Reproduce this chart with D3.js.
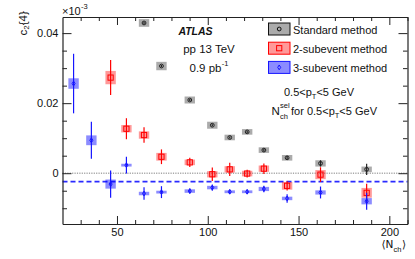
<!DOCTYPE html>
<html><head><meta charset="utf-8">
<script src="https://cdn.jsdelivr.net/npm/d3@7"></script>
<style>
body{margin:0;background:#fff;}
svg{display:block;font-family:"Liberation Sans",Arial,Helvetica,sans-serif;}
</style></head>
<body>
<script>
// ---------------- data ----------------
const nchStd  = [64.9, 74.5, 90.1, 102.5, 112.1, 121.7, 130.9, 143.7, 162.1, 187.5];
const c24Std  = [0.0429, 0.0306, 0.0209, 0.0137, 0.0102, 0.0118, 0.0066, 0.0044, 0.0028, 0.0011];
const statStd = [0.0003, 0.0003, 0.0003, 0.0003, 0.0003, 0.0003, 0.0004, 0.0005, 0.0009, 0.0016];
const sysStd  = [0.0011, 0.0012, 0.0010, 0.0010, 0.0008, 0.0008, 0.0008, 0.0008, 0.0009, 0.0008];

const nch2sub  = [46.5, 55.2, 64.9, 74.5, 90.1, 102.5, 112.1, 121.7, 130.9, 143.7, 162.1, 187.5];
const c24_2sub = [0.0273, 0.0127, 0.0109, 0.0047, 0.0031, -0.0003, 0.0011, -0.0001, 0.0013, -0.0036, -0.0004, -0.0056];
const stat2sub = [0.0050, 0.0030, 0.0022, 0.0021, 0.0013, 0.0019, 0.0019, 0.0011, 0.0015, 0.0013, 0.0021, 0.0026];
const sys2sub  = [0.0019, 0.00105, 0.00105, 0.0011, 0.0008, 0.0009, 0.0009, 0.0008, 0.0009, 0.0011, 0.0013, 0.0014];

const nch3sub  = [26.1, 35.9, 46.5, 55.2, 64.9, 74.5, 90.1, 102.5, 112.1, 121.7, 130.9, 143.7, 162.1, 187.5];
const c24_3sub = [0.0256, 0.0094, -0.0031, 0.0023, -0.0058, -0.0054, -0.0051, -0.0041, -0.0053, -0.0053, -0.0045, -0.0072, -0.0055, -0.0080];
const stat3sub = [0.0085, 0.0053, 0.0039, 0.0024, 0.0018, 0.0017, 0.0007, 0.0009, 0.0006, 0.0006, 0.0009, 0.0012, 0.0017, 0.0024];
const sys3sub  = [0.0015, 0.0014, 0.0013, 0.0004, 0.0005, 0.0004, 0.0005, 0.0005, 0.0004, 0.0004, 0.0006, 0.0005, 0.0006, 0.0009];

const dashedLevel = -0.0024;
const yMajorTicks = [0, 0.02, 0.04];
const yTickLabels = ["0", "0.02", "0.04"];
const xMajorTicks = [50, 100, 150, 200];
const xTickLabels = ["50", "100", "150", "200"];
const legendLabels = ["Standard method", "2-subevent method", "3-subevent method"];

// ---------------- layout ----------------
const W = 415, H = 259;
const L = 62.5, R = 407.5, T = 17, B = 224;
const svg = d3.select("body").append("svg").attr("width", W).attr("height", H);

const x = d3.scaleLinear().domain([20, 210]).range([L, R]);
const y = d3.scaleLinear().domain([-0.0145, 0.0446]).range([B, T]);

const yMinor = d3.range(-0.010, 0.0446, 0.005).map(v => +v.toFixed(4)).filter(v => !yMajorTicks.includes(v));
const xMinor = d3.range(30, 211, 10).filter(v => !xMajorTicks.includes(v));

// reference lines
svg.append("line").attr("x1", L).attr("x2", R).attr("y1", y(0)).attr("y2", y(0))
  .attr("stroke", "#a8a8a8").attr("stroke-width", 1.6).attr("stroke-dasharray", "1.2,1.2");
svg.append("line").attr("x1", L).attr("x2", R).attr("y1", y(dashedLevel)).attr("y2", y(dashedLevel))
  .attr("stroke", "#2a2aff").attr("stroke-width", 1.8).attr("stroke-dasharray", "5,3");

// series drawing
function drawSeries(xs, vs, stats, syss, opt) {
  const g = svg.append("g");
  const data = xs.map((d, i) => ({x: d, v: vs[i], st: stats[i], sy: syss[i]}));
  g.selectAll("rect.sys").data(data).enter().append("rect")
    .attr("x", d => x(d.x) - 5.2).attr("width", 10.4)
    .attr("y", d => y(d.v + d.sy)).attr("height", d => Math.max(y(d.v - d.sy) - y(d.v + d.sy), 1.5))
    .attr("fill", opt.box);
  g.selectAll("line.err").data(data).enter().append("line")
    .attr("x1", d => x(d.x)).attr("x2", d => x(d.x))
    .attr("y1", d => y(d.v + d.st)).attr("y2", d => y(d.v - d.st))
    .attr("stroke", opt.line).attr("stroke-width", 1.2);
  const m = g.selectAll("g.m").data(data).enter().append("g")
    .attr("transform", d => `translate(${x(d.x)},${y(d.v)})`);
  opt.marker(m);
}
const circleM = (sel, c) => sel.append("circle").attr("r", 1.9).attr("fill", "none").attr("stroke", c).attr("stroke-width", 1);
const squareM = (sel, c) => sel.append("rect").attr("x", -2.6).attr("y", -2.6).attr("width", 5.2).attr("height", 5.2)
  .attr("fill", "none").attr("stroke", c).attr("stroke-width", 1);
const diamondM = (sel, c) => sel.append("path").attr("d", "M0,-2.4L1.5,0L0,2.4L-1.5,0Z")
  .attr("fill", "none").attr("stroke", c).attr("stroke-width", 1);

drawSeries(nchStd, c24Std, statStd, sysStd, {box: "rgba(0,0,0,0.33)", line: "#222", marker: s => circleM(s, "#222")});
drawSeries(nch2sub, c24_2sub, stat2sub, sys2sub, {box: "rgba(255,0,0,0.4)", line: "#f00", marker: s => squareM(s, "#f00")});
drawSeries(nch3sub, c24_3sub, stat3sub, sys3sub, {box: "rgba(0,0,255,0.45)", line: "#1515ff", marker: s => diamondM(s, "#1515ff")});

// axes
function styleAxis(g) { g.selectAll("path.domain").attr("stroke", "#222").attr("stroke-width", 1.2); g.selectAll(".tick line").attr("stroke", "#222"); }
const fs = "11px";
svg.append("g").attr("transform", `translate(${L},0)`)
  .call(d3.axisLeft(y).tickValues(yMajorTicks).tickSizeInner(-9).tickSizeOuter(0).tickPadding(4)
    .tickFormat((d, i) => yTickLabels[i]))
  .call(styleAxis).call(g => g.selectAll("text").attr("font-size", fs).attr("fill", "#111").attr("font-family", null));
svg.append("g").attr("transform", `translate(${L},0)`)
  .call(d3.axisLeft(y).tickValues(yMinor).tickSizeInner(-4.5).tickSizeOuter(0).tickFormat(""))
  .call(styleAxis).call(g => g.select("path.domain").remove());
svg.append("g").attr("transform", `translate(${R},0)`)
  .call(d3.axisRight(y).tickValues(yMajorTicks).tickSizeInner(-9).tickSizeOuter(0).tickFormat(""))
  .call(styleAxis);
svg.append("g").attr("transform", `translate(${R},0)`)
  .call(d3.axisRight(y).tickValues(yMinor).tickSizeInner(-4.5).tickSizeOuter(0).tickFormat(""))
  .call(styleAxis).call(g => g.select("path.domain").remove());
svg.append("g").attr("transform", `translate(0,${B})`)
  .call(d3.axisBottom(x).tickValues(xMajorTicks).tickSizeInner(-8).tickSizeOuter(0).tickPadding(4)
    .tickFormat((d, i) => xTickLabels[i]))
  .call(styleAxis).call(g => g.selectAll("text").attr("font-size", fs).attr("fill", "#111").attr("font-family", null));
svg.append("g").attr("transform", `translate(0,${B})`)
  .call(d3.axisBottom(x).tickValues(xMinor).tickSizeInner(-4).tickSizeOuter(0).tickFormat(""))
  .call(styleAxis).call(g => g.select("path.domain").remove());
svg.append("g").attr("transform", `translate(0,${T})`)
  .call(d3.axisTop(x).tickValues(xMajorTicks).tickSizeInner(-8).tickSizeOuter(0).tickFormat(""))
  .call(styleAxis);
svg.append("g").attr("transform", `translate(0,${T})`)
  .call(d3.axisTop(x).tickValues(xMinor).tickSizeInner(-4).tickSizeOuter(0).tickFormat(""))
  .call(styleAxis).call(g => g.select("path.domain").remove());

// helper for text
function txt(xp, yp, s, size, extra) {
  const t = svg.append("text").attr("x", xp).attr("y", yp).attr("font-size", size).attr("fill", "#111").text(s);
  if (extra) extra(t);
  return t;
}
function endX(t) { return +t.attr("x") + t.node().getComputedTextLength(); }

// exponent label
const e1 = txt(62, 15, "×10", "11px");
txt(endX(e1) + 0.3, 9, "-3", "7.5px");

// y title c2{4}
const yt = svg.append("text").attr("transform", "translate(26.5,35.5) rotate(-90)").attr("font-size", "11.5px").attr("fill", "#111");
yt.append("tspan").text("c");
yt.append("tspan").attr("font-size", "8px").attr("dy", 2.8).text("2");
yt.append("tspan").attr("dy", -2.8).text("{4}");

// x title <N_ch>
const xt1 = txt(381.5, 247.5, "⟨N", "11.5px", t => t.attr("font-family", "DejaVu Sans, Liberation Sans").attr("font-size", "10.5px"));
const xs1 = txt(endX(xt1), 251.5, "ch", "7.5px");
txt(endX(xs1) + 0.5, 247.5, "⟩", "10.5px", t => t.attr("font-family", "DejaVu Sans, Liberation Sans"));

// ATLAS labels
txt(195.5, 35, "ATLAS", "10.5px", t => t.attr("font-weight", "bold").attr("font-style", "italic").attr("text-anchor", "middle"));
txt(209, 53.3, "pp 13 TeV", "11.5px", t => t.attr("text-anchor", "middle"));
const lum = txt(189.5, 71.8, "0.9 pb", "11.5px");
txt(endX(lum) + 0.3, 65.5, "-1", "7.5px");

// legend
const legFill = ["rgba(0,0,0,0.33)", "rgba(255,0,0,0.4)", "rgba(0,0,255,0.45)"];
const legStroke = ["#111", "#f00", "#1515ff"];
const legMarkers = [circleM, squareM, diamondM];
legendLabels.forEach((lab, i) => {
  const yy = 23 + i * 19.2;
  svg.append("rect").attr("x", 268.5).attr("y", yy).attr("width", 21.5).attr("height", 12)
    .attr("fill", legFill[i]).attr("stroke", legStroke[i]).attr("stroke-width", 1);
  const g = svg.append("g").attr("transform", `translate(279.2,${yy + 6})`);
  legMarkers[i](g, i === 0 ? "#111" : legStroke[i]);
  txt(293, yy + 10.5, lab, "11px");
});

// kinematic labels
const k1 = txt(284, 95.5, "0.5<p", "11px");
const k1s = txt(endX(k1), 98.5, "T", "7.5px");
txt(endX(k1s), 95.5, "<5 GeV", "11px");

const n1 = txt(271.5, 114.5, "N", "11.5px");
const nx = endX(n1) + 0.3;
txt(nx, 107.5, "sel", "7.5px");
const nch = txt(nx, 118.5, "ch", "7.5px");
const k2 = txt(endX(nch) + 3, 114.5, "for 0.5<p", "11px");
const k2s = txt(endX(k2), 117.5, "T", "7.5px");
txt(endX(k2s), 114.5, "<5 GeV", "11px");
</script>
</body></html>
